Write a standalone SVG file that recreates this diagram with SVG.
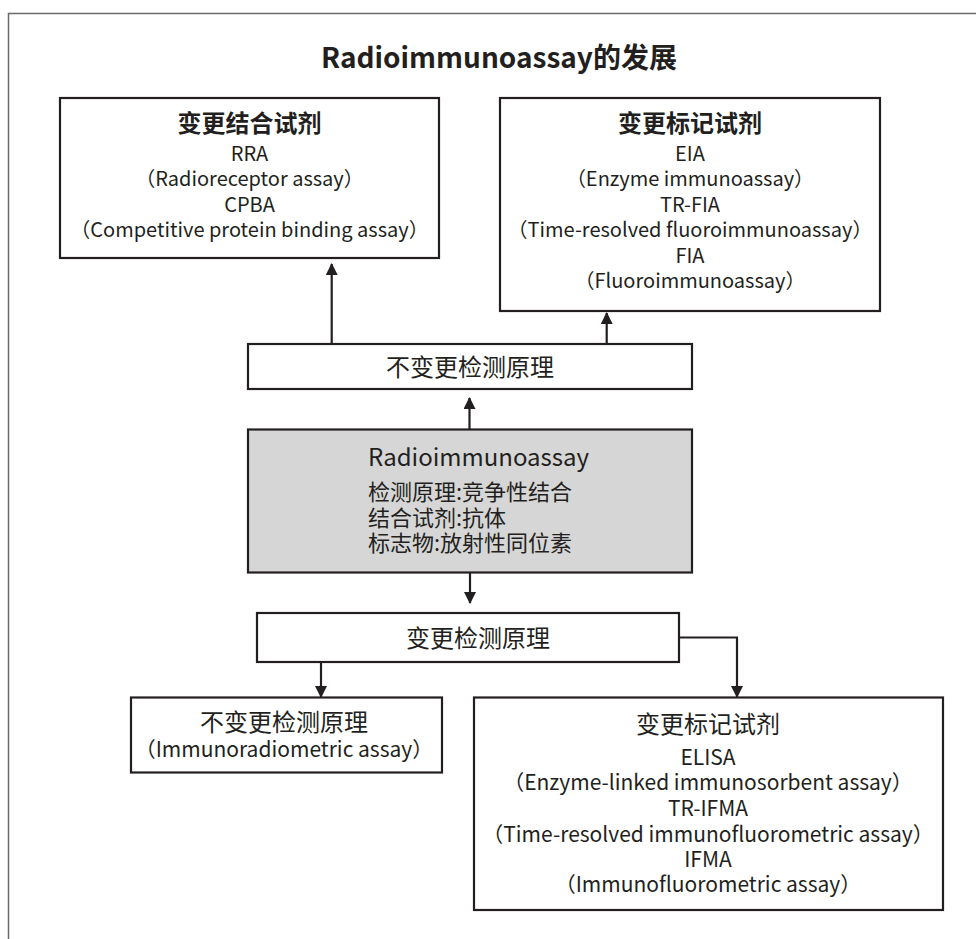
<svg xmlns="http://www.w3.org/2000/svg" width="976" height="939" viewBox="0 0 976 939">
<style>
  text { font-family: "Noto Sans CJK SC", "Noto Sans", sans-serif; fill: #231f20; }
  .box { fill: #ffffff; stroke: #231f20; stroke-width: 2.2; }
  .gray { fill: #d6d6d6; stroke: #231f20; stroke-width: 2.2; }
  .h { font-size: 24px; text-anchor: middle; }
  .hb { font-size: 24px; font-weight: bold; text-anchor: middle; }
  .b { font-size: 20px; text-anchor: middle; }
  .b2 { font-size: 21px; text-anchor: middle; }
  .conn { fill: none; stroke: #231f20; stroke-width: 2.2; marker-end: url(#arr); }
</style>
<defs>
  <marker id="arr" markerUnits="userSpaceOnUse" markerWidth="12" markerHeight="12" refX="11" refY="6" orient="auto" viewBox="0 0 12 12">
    <path d="M0,0 L12,6 L0,12 z" fill="#231f20"/>
  </marker>
</defs>
<rect x="8.5" y="13.5" width="1000" height="1000" fill="#ffffff" stroke="#6a6a6a" stroke-width="1.5"/>
<text x="499" y="68" font-size="28" font-weight="bold" text-anchor="middle">Radioimmunoassay的发展</text>

<g id="connectors">
  <path class="conn" d="M331.7,344 V264"/>
  <path class="conn" d="M606.7,344 V313"/>
  <path class="conn" d="M469.5,429 V398"/>
  <path class="conn" d="M470,573 V603"/>
  <path class="conn" d="M321,662 V697"/>
  <path class="conn" d="M679,637.5 H737 V697"/>
</g>

<g id="binding">
  <rect class="box" x="60" y="98" width="379" height="160"/>
  <text class="hb" x="249.5" y="131.5">变更结合试剂</text>
  <text class="b" x="249.5" y="161">RRA</text>
  <text class="b" x="249.5" y="186">（Radioreceptor assay）</text>
  <text class="b" x="249.5" y="211.5">CPBA</text>
  <text class="b" x="249.5" y="237">（Competitive protein binding assay）</text>
</g>

<g id="label">
  <rect class="box" x="500" y="98" width="380" height="213"/>
  <text class="hb" x="690" y="131.5">变更标记试剂</text>
  <text class="b" x="690" y="161">EIA</text>
  <text class="b" x="690" y="186">（Enzyme immunoassay）</text>
  <text class="b" x="690" y="211.5">TR-FIA</text>
  <text class="b" x="690" y="237">（Time-resolved fluoroimmunoassay）</text>
  <text class="b" x="690" y="263">FIA</text>
  <text class="b" x="690" y="288">（Fluoroimmunoassay）</text>
</g>

<g id="nochange-top">
  <rect class="box" x="248" y="344" width="444" height="45"/>
  <text class="h" x="470" y="376">不变更检测原理</text>
</g>

<g id="ria">
  <rect class="gray" x="248" y="429.5" width="444" height="143"/>
  <text x="368" y="466" font-size="24">Radioimmunoassay</text>
  <text x="368" y="500" font-size="22">检测原理:竞争性结合</text>
  <text x="368" y="525.5" font-size="22">结合试剂:抗体</text>
  <text x="368" y="550.5" font-size="22">标志物:放射性同位素</text>
</g>

<g id="change-principle">
  <rect class="box" x="257" y="613" width="422" height="49"/>
  <text class="h" x="478" y="647">变更检测原理</text>
</g>

<g id="irma">
  <rect class="box" x="131" y="697.5" width="311" height="75"/>
  <text class="h" x="284" y="731">不变更检测原理</text>
  <text class="b2" x="284" y="757">（Immunoradiometric assay）</text>
</g>

<g id="label-bottom">
  <rect class="box" x="474" y="697.5" width="469" height="212.5"/>
  <text class="h" x="708" y="733">变更标记试剂</text>
  <text class="b2" x="708" y="765">ELISA</text>
  <text class="b2" x="708" y="790">（Enzyme-linked immunosorbent assay）</text>
  <text class="b2" x="708" y="816">TR-IFMA</text>
  <text class="b2" x="708" y="841.5">（Time-resolved immunofluorometric assay）</text>
  <text class="b2" x="708" y="866.5">IFMA</text>
  <text class="b2" x="708" y="891.5">（Immunofluorometric assay）</text>
</g>
</svg>
